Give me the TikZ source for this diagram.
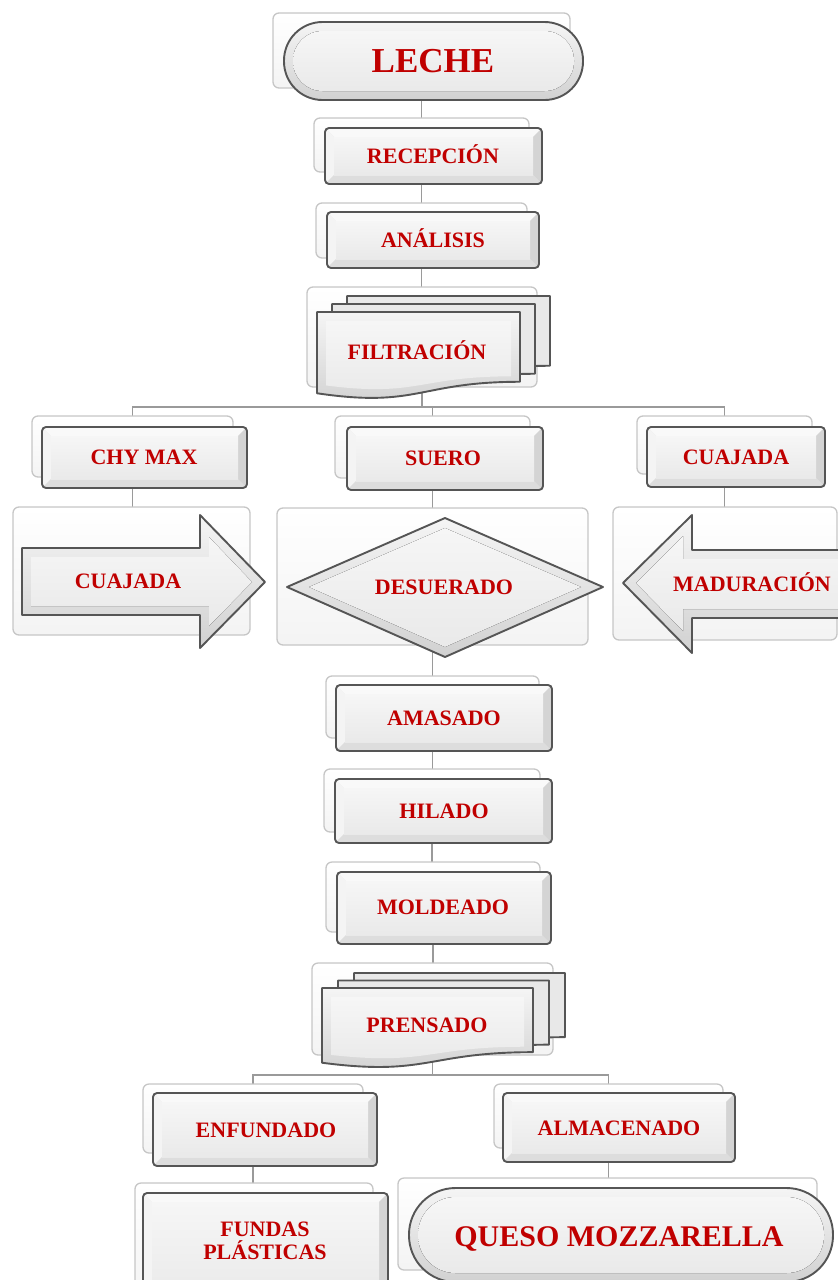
\documentclass[tikz,border=0pt]{standalone}
\usepackage{fontspec}
\setmainfont{Liberation Serif}
\usetikzlibrary{calc}
\definecolor{lblred}{HTML}{C00000}
\definecolor{edgegray}{HTML}{555555}
\definecolor{conngray}{HTML}{9A9A9A}
\pgfdeclarelayer{links}
\pgfsetlayers{links,main}
\tikzset{
  bgstyle/.style={rectangle, rounded corners=6pt, draw=gray!45, line width=1.3pt,
    top color=white, bottom color=gray!9, inner sep=0pt, outer sep=0pt},
  conn/.style={draw=conngray, line width=1.4pt},
  lbl/.style={font=\fontsize{22}{23}\selectfont\bfseries, text=lblred, inner sep=0pt,
    align=center, text height=14.6pt, text depth=0pt},
  biglbl/.style={lbl, font=\fontsize{35}{36}\selectfont\bfseries, text height=23.2pt},
  midlbl/.style={lbl, font=\fontsize{30}{31}\selectfont\bfseries, text height=19.9pt},
  edgeline/.style={draw=edgegray, line width=1.9pt, line join=round},
  ring/.style={top color=gray!8, bottom color=gray!36},
  face/.style={top color=gray!7, bottom color=gray!17},
}
% background box node: name x1 y1 x2 y2
\newcommand\bgn[5]{\node[bgstyle, minimum width={(#4-#2)*1pt}, minimum height={(#5-#3)*1pt}] (#1) at ({(#2+#4)/2},{(#3+#5)/2}) {};}
% bevelled rectangle: x1 y1 x2 y2
\newcommand\fgrect[4]{%
  \begin{scope}
    \clip[rounded corners=4pt] (#1,#2) rectangle (#3,#4);
    \fill[gray!22] (#1,#2) rectangle (#3,#4);
    \fill[gray!5] (#1,#2) -- (#3,#2) -- (#3-9,#2+9) -- (#1+9,#2+9) -- cycle;
    \fill[gray!9] (#1,#2) -- (#1+9,#2+9) -- (#1+9,#4-9) -- (#1,#4) -- cycle;
    \fill[gray!34] (#3,#2) -- (#3,#4) -- (#3-9,#4-9) -- (#3-9,#2+9) -- cycle;
    \fill[gray!27] (#1,#4) -- (#3,#4) -- (#3-9,#4-9) -- (#1+9,#4-9) -- cycle;
    \fill[face] (#1+9,#2+9) rectangle (#3-9,#4-9);
  \end{scope}
  \draw[edgeline, rounded corners=4pt] (#1,#2) rectangle (#3,#4);}
% stadium: x1 y1 x2 y2
\newcommand\fgstad[4]{%
  \pgfmathsetmacro\rro{(#4-#2)/2-0.5}%
  \pgfmathsetmacro\rri{\rro-9}%
  \fill[ring, rounded corners=\rro pt] (#1,#2) rectangle (#3,#4);
  \fill[face, rounded corners=\rri pt] (#1+9,#2+9) rectangle (#3-9,#4-9);
  \draw[edgeline, rounded corners=\rro pt] (#1,#2) rectangle (#3,#4);}
% document shape path: options x y w h
\newcommand\docp[5]{\path[#1] ({#2},{#3}) -- ({(#2)+(#4)},{#3}) -- ({(#2)+(#4)},{(#3)+0.802*(#5)})
  .. controls ({(#2)+0.5*(#4)},{(#3)+0.802*(#5)}) and ({(#2)+0.5*(#4)},{(#3)+1.107*(#5)}) ..
  ({#2},{(#3)+0.934*(#5)}) -- cycle;}
% stack of three documents: x y w h (front one) dx dy
\newcommand\docstack[6]{%
  \docp{fill=gray!18, edgeline}{(#1)+2*(#5)}{(#2)+2*(#6)}{#3}{#4}
  \docp{fill=gray!18, edgeline}{(#1)+(#5)}{(#2)+(#6)}{#3}{#4}
  \docp{ring}{#1}{#2}{#3}{#4}
  \docp{face}{(#1)+9}{(#2)+9}{(#3)-18}{(#4)-18}
  \docp{edgeline}{#1}{#2}{#3}{#4}}
\begin{document}
\begin{tikzpicture}[x=1pt, y=-1pt]
\useasboundingbox (0,0) rectangle (838,1280);
\clip (0,0) rectangle (838,1280);

% ---------- background boxes ----------
\bgn{bgLeche}{273}{13}{570}{88}
\bgn{bgRecep}{314}{118}{529}{172}
\bgn{bgAnal}{316}{203}{527}{258}
\bgn{bgFilt}{307}{287}{537}{387}
\bgn{bgChy}{32}{416}{233}{477}
\bgn{bgSuero}{335}{416}{530}{478}
\bgn{bgCuajT}{637}{416}{812}{474}
\bgn{bgCuajA}{13}{507}{250}{635}
\bgn{bgDes}{277}{508}{588}{645}
\bgn{bgMad}{613}{507}{837}{640}
\bgn{bgAmas}{326}{676}{539}{738}
\bgn{bgHil}{324}{769}{540}{832}
\bgn{bgMold}{326}{862}{540}{932}
\bgn{bgPrens}{312}{963}{553}{1055}
\bgn{bgEnf}{143}{1084}{363}{1153}
\bgn{bgAlm}{494}{1084}{723}{1148}
\bgn{bgFund}{135}{1183}{373}{1300}
\bgn{bgQueso}{398}{1178}{817}{1270}

\coordinate (busA) at (422,407);
\coordinate (busB) at (432,1075);

% ---------- connectors ----------
\begin{pgfonlayer}{links}
\draw[conn] (bgLeche.center) -- (bgLeche.center |- bgRecep.center);
\draw[conn] (bgRecep.center) -- (bgRecep.center |- bgAnal.center);
\draw[conn] (bgAnal.center) -- (bgAnal.center |- bgFilt.center);
\draw[conn] (bgFilt.center) -- (bgFilt.center |- busA);
\draw[conn] (bgChy.center) |- (busA) -| (bgCuajT.center);
\draw[conn] (bgSuero.center) -- (bgSuero.center |- busA);
\draw[conn] (bgChy.center) -- (bgChy.center |- bgCuajA.center);
\draw[conn] (bgSuero.center) -- (bgSuero.center |- bgDes.center);
\draw[conn] (bgCuajT.center) -- (bgCuajT.center |- bgMad.center);
\draw[conn] (bgDes.center) -- (bgDes.center |- bgAmas.center);
\draw[conn] (bgAmas.center) -- (bgAmas.center |- bgHil.center);
\draw[conn] (bgHil.center) -- (bgHil.center |- bgMold.center);
\draw[conn] (bgMold.center) -- (bgMold.center |- bgPrens.center);
\draw[conn] (bgPrens.center) -- (bgPrens.center |- busB);
\draw[conn] (bgEnf.center) |- (busB) -| (bgAlm.center);
\draw[conn] (bgEnf.center) -- (bgEnf.center |- bgFund.center);
\draw[conn] (bgAlm.center) -- (bgAlm.center |- bgQueso.center);
\end{pgfonlayer}

% ---------- foreground shapes ----------
\fgstad{284}{22}{583}{100}
\fgrect{325}{128}{542}{184}
\fgrect{327}{212}{539}{268}
\docstack{317}{312}{203}{87}{15}{-8}
\fgrect{42}{427}{247}{488}
\fgrect{347}{427}{543}{490}
\fgrect{647}{427}{825}{487}

% right arrow CUAJADA
\fill[ring] (22,548) -- (200,548) -- (200,515) -- (265,582) -- (200,648) -- (200,615) -- (22,615) -- cycle;
\fill[face] (31,557) -- (209,557) -- (209,537) -- (252,582) -- (209,626) -- (209,606) -- (31,606) -- cycle;
\draw[edgeline] (22,548) -- (200,548) -- (200,515) -- (265,582) -- (200,648) -- (200,615) -- (22,615) -- cycle;

% diamond DESUERADO
\fill[ring] (287,587) -- (445,518) -- (603,587) -- (445,657) -- cycle;
\fill[face] (309,587) -- (445,528) -- (581,587) -- (445,647) -- cycle;
\draw[edgeline] (287,587) -- (445,518) -- (603,587) -- (445,657) -- cycle;

% left arrow MADURACION
\fill[ring] (850,550) -- (692,550) -- (692,515) -- (623,583) -- (692,653) -- (692,618) -- (850,618) -- cycle;
\fill[face] (850,559) -- (683,559) -- (683,536) -- (636,583) -- (683,631) -- (683,609) -- (850,609) -- cycle;
\draw[edgeline] (850,550) -- (692,550) -- (692,515) -- (623,583) -- (692,653) -- (692,618) -- (850,618) -- cycle;

\fgrect{336}{685}{552}{751}
\fgrect{335}{779}{552}{843}
\fgrect{337}{872}{551}{944}
\docstack{322}{988}{211}{80}{16}{-7.5}
\fgrect{153}{1093}{377}{1166}
\fgrect{503}{1093}{735}{1162}
\fgrect{143}{1193}{388}{1310}
\fgstad{409}{1188}{833}{1282}

% ---------- labels ----------
\node[biglbl] (leche) at (433,61) {LECHE};
\node[lbl] (recepcion) at (433,156) {RECEPCIÓN};
\node[lbl] (analisis) at (433,240) {ANÁLISIS};
\node[lbl] (filtracion) at (417,352) {FILTRACIÓN};
\node[lbl] (chymax) at (144,457) {CHY MAX};
\node[lbl] (suero) at (443,458) {SUERO};
\node[lbl] (cuajadaT) at (736,457) {CUAJADA};
\node[lbl] (cuajadaA) at (128,581) {CUAJADA};
\node[lbl] (desuerado) at (444,587) {DESUERADO};
\node[lbl] (maduracion) at (752,584) {MADURACIÓN};
\node[lbl] (amasado) at (444,718) {AMASADO};
\node[lbl] (hilado) at (444,811) {HILADO};
\node[lbl] (moldeado) at (443,907) {MOLDEADO};
\node[lbl] (prensado) at (427,1025) {PRENSADO};
\node[lbl] (enfundado) at (266,1130) {ENFUNDADO};
\node[lbl] (almacenado) at (619,1128) {ALMACENADO};
\node[lbl] (fundas) at (265,1252) {FUNDAS\\PLÁSTICAS};
\node[midlbl] (queso) at (619,1237) {QUESO MOZZARELLA};
\end{tikzpicture}
\end{document}
